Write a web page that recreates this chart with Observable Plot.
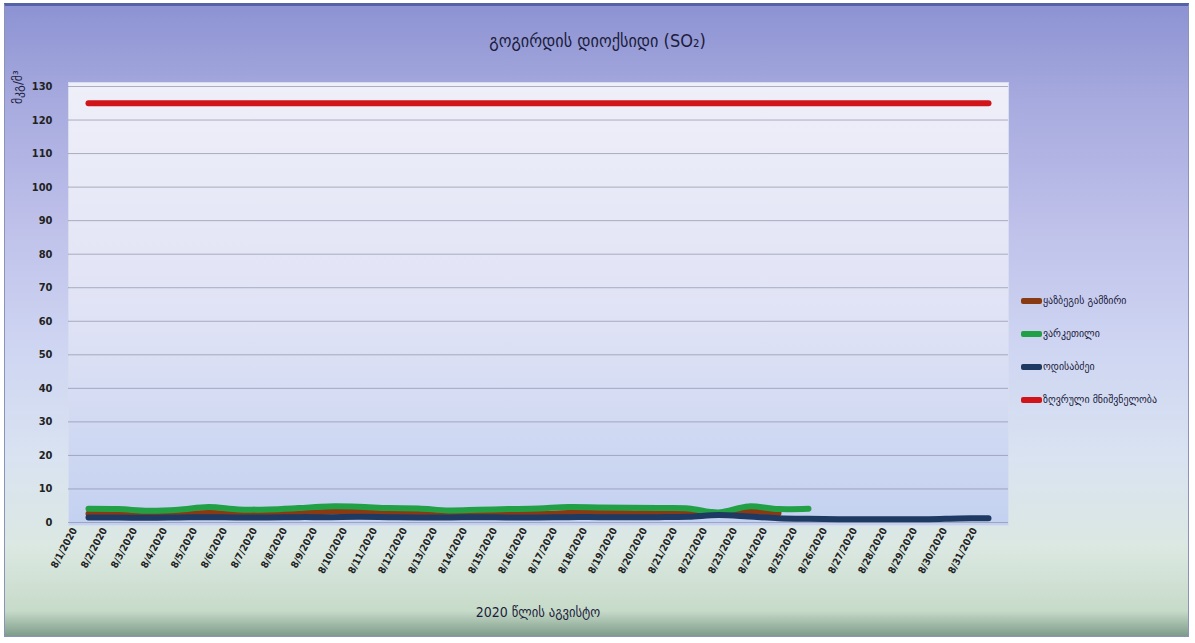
<!DOCTYPE html>
<html><head><meta charset="utf-8">
<script src="https://cdn.jsdelivr.net/npm/d3@7"></script>
<script src="https://cdn.jsdelivr.net/npm/@observablehq/plot@0.6"></script>
<style>
body{margin:0;background:#fff;}
#wrap{position:relative;width:1195px;height:643px;overflow:hidden;background:#fff;}
#frame{position:absolute;left:4px;top:3px;width:1185px;height:634px;border:1px solid #8a93b8;border-top:3px solid #5462a8;box-sizing:border-box;
 background:linear-gradient(to bottom,#8d93d3 0%,#a6aade 15%,#bfc1ea 35%,#cfd6f2 55%,#d9e3f1 72%,#dbe8e2 86%,#c7dbc9 96%,#7e9c8a 100%);}
#chart{position:absolute;left:0;top:0;}
.t{position:absolute;font-family:"DejaVu Sans Condensed","DejaVu Sans",sans-serif;color:#1c1c3c;white-space:nowrap;}
#title{left:0;width:1195px;top:30px;text-align:center;font-size:18px;}
#xlab{left:68px;width:940px;top:604px;text-align:center;font-size:14px;}
#ylab{left:10px;top:104px;font-size:13px;transform:rotate(-90deg);transform-origin:0 0;}
#legend{position:absolute;left:1021px;top:290px;font-family:"DejaVu Sans Condensed","DejaVu Sans",sans-serif;font-size:11px;color:#1c1c3c;}
.li{display:flex;align-items:center;height:21px;margin-bottom:12px;white-space:nowrap;}
.sw{display:inline-block;width:21px;height:6px;margin-right:1px;border-radius:2px;}
</style></head>
<body>
<div id="wrap">
 <div id="frame"></div>
 <div id="chart"></div>
 <div class="t" id="title"></div>
 <div class="t" id="xlab"></div>
 <div class="t" id="ylab"></div>
 <div id="legend"></div>
</div>
<script>
const titleText = "გოგირდის დიოქსიდი (SO₂)";
const xLabel = "2020 წლის აგვისტო";
const yLabel = "მკგ/მ³";
const dates = ["8/1/2020","8/2/2020","8/3/2020","8/4/2020","8/5/2020","8/6/2020","8/7/2020","8/8/2020","8/9/2020","8/10/2020",
 "8/11/2020","8/12/2020","8/13/2020","8/14/2020","8/15/2020","8/16/2020","8/17/2020","8/18/2020","8/19/2020","8/20/2020",
 "8/21/2020","8/22/2020","8/23/2020","8/24/2020","8/25/2020","8/26/2020","8/27/2020","8/28/2020","8/29/2020","8/30/2020","8/31/2020"];
const yTicks = [0,10,20,30,40,50,60,70,80,90,100,110,120,130];
const seriesNames = ["ყაზბეგის გამზირი","ვარკეთილი","ოდისაბძეი","ზღვრული მნიშვნელობა"];
const seriesColors = ["#8a3a12","#22a046","#1f3a62","#d0141a"];
const kazbegi = [2.6,2.5,2.4,2.6,2.8,2.7,2.5,2.7,3.2,3.4,2.8,2.7,2.5,2.5,2.6,2.6,2.8,2.9,2.8,2.8,2.7,2.3,3.3,2.8,null,null,null,null,null,null,null];
const varketili = [4.1,4.0,3.5,3.8,4.6,3.9,3.9,4.3,4.8,4.7,4.3,4.2,3.6,3.8,4.0,4.2,4.6,4.5,4.4,4.3,4.2,3.0,4.8,4.0,4.1,null,null,null,null,null,null];
const third = [1.5,1.5,1.4,1.5,1.6,1.5,1.5,1.6,1.6,1.7,1.6,1.5,1.5,1.6,1.5,1.5,1.6,1.6,1.6,1.6,1.7,2.2,1.8,1.3,1.1,1.0,1.0,1.0,1.0,1.2,1.3];
const limit = [125,125,125,125,125,125,125,125,125,125,125,125,125,125,125,125,125,125,125,125,125,125,125,125,125,125,125,125,125,125,125];

const allSeries = [kazbegi, varketili, third, limit];
const rows = [];
allSeries.forEach((arr, s) => arr.forEach((v, i) => { if (v != null) rows.push({date: dates[i], value: v, series: seriesNames[s]}); }));

document.getElementById("title").textContent = titleText;
document.getElementById("xlab").textContent = xLabel;
document.getElementById("ylab").textContent = yLabel;
const leg = document.getElementById("legend");
seriesNames.forEach((n, i) => {
  const d = document.createElement("div"); d.className = "li";
  const s = document.createElement("span"); s.className = "sw"; s.style.background = seriesColors[i];
  const t = document.createElement("span"); t.textContent = n;
  d.append(s, t); leg.append(d);
});

const chart = Plot.plot({
  width: 1195, height: 643,
  marginLeft: 68, marginRight: 187, marginTop: 86, marginBottom: 121,
  style: {background: "transparent", fontFamily: "'Liberation Sans Narrow','DejaVu Sans Condensed',sans-serif", color: "#222"},
  x: {type: "point", domain: dates, padding: 0.5, label: null},
  y: {domain: [0, 130], label: null},
  color: {domain: seriesNames, range: seriesColors},
  marks: [
    Plot.frame({fill: "url(#plotbg)", stroke: "#d8dcef", insetTop: -4, insetBottom: -3}),
    Plot.gridY(yTicks, {stroke: "#8f92a8", strokeOpacity: 0.7}),
    Plot.axisY(yTicks, {tickSize: 0, tickPadding: 16, fontSize: 11, fontWeight: "bold", label: null}),
    Plot.axisX({tickSize: 0, tickRotate: -62, tickPadding: 6, fontSize: 10, fontWeight: "bold", dx: -14, label: null}),
    Plot.line(rows, {x: "date", y: "value", z: "series", stroke: "series", strokeWidth: 6, strokeLinecap: "round", strokeLinejoin: "round", curve: "catmull-rom"})
  ]
});
const svg = d3.select(chart);
const grad = svg.insert("defs", ":first-child").append("linearGradient").attr("id", "plotbg").attr("x1", 0).attr("y1", 0).attr("x2", 0).attr("y2", 1);
grad.append("stop").attr("offset", "0%").attr("stop-color", "#efeff9");
grad.append("stop").attr("offset", "55%").attr("stop-color", "#dfe2f5");
grad.append("stop").attr("offset", "100%").attr("stop-color", "#c3d1f0");
document.getElementById("chart").append(chart);
</script>
</body></html>
